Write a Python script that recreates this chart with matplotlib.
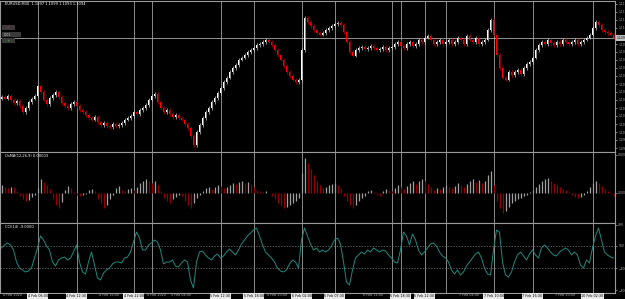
import numpy as np
import matplotlib
matplotlib.use("Agg")
import matplotlib.pyplot as plt
from matplotlib.patches import Rectangle

# close prices, in pips above 1.0980 (one per M30 bar)
close_pips = [
    55, 53, 56, 52, 49, 51, 46, 40, 44, 50,
    53, 56, 66, 60, 52, 48, 54, 57, 60, 55,
    49, 46, 44, 48, 50, 46, 42, 40, 37, 34,
    32, 35, 30, 27, 29, 26, 25, 28, 26, 27,
    29, 32, 34, 36, 40, 38, 42, 44, 47, 52,
    56, 58, 50, 44, 40, 42, 38, 35, 37, 34,
    32, 28, 24, 16, 7, 20, 27, 34, 40, 44,
    50, 54, 59, 64, 70, 74, 80, 84, 87, 92,
    94, 97, 100, 102, 104, 107, 108, 110, 112, 110,
    107, 102, 97, 92, 86, 80, 76, 72, 70, 72,
    102, 134, 130, 126, 122, 119, 117, 119, 122, 124,
    126, 128, 129, 127, 120, 110, 100, 96, 102, 104,
    105, 103, 104, 106, 104, 102, 103, 105, 102, 104,
    105, 108, 110, 106, 104, 108, 110, 106, 108, 112,
    110, 114, 116, 112, 108, 110, 112, 108, 110, 112,
    108, 110, 114, 112, 108, 116, 112, 110, 114, 108,
    110, 112, 122, 132, 117, 97, 84, 74, 72, 80,
    77, 80, 82, 78, 84, 88, 90, 94, 102, 107,
    110, 108, 112, 109, 107, 110, 108, 112, 110, 108,
    110, 112, 108, 110, 112, 114, 117, 124, 130, 127,
    122, 120, 119, 117, 114,
]

# OsMA histogram, in units of 0.00001
osma_pts = [
    8, 6, 5, 6, 6, 2, -3, -6, -8, -7,
    -4, -2, 5, 14, 11, 8, 4, -6, -12, -15,
    -9, 3, 7, 5, 1, -2, -3, -2, -1, 3,
    4, 2, -6, -10, -15, -12, -6, -2, 5, 7,
    3, 2, 4, 5, 3, 6, 10, 12, 14, 12,
    10, 12, 8, 2, -5, -8, -10, -6, -4, -2,
    -3, -8, -12, -15, -10, -5, -2, 2, 5, 6,
    4, 6, 8, 7, 5, 6, 8, 10, 9, 11,
    12, 10, 11, 9, 6, 3, 2, 1, 2, 0,
    -3, -6, -10, -13, -15, -14, -12, -10, -8, -5,
    20, 35, 30, 24, 18, 12, 8, 5, 6, 8,
    9, 10, 8, 5, -3, -8, -12, -15, -12, -8,
    -5, -3, 2, 3, 1, -2, -3, 2, 4, 3,
    2, 5, 8, 6, 4, 7, 10, 12, 9, 12,
    14, 12, 9, 6, 3, 5, 4, 6, 8, 6,
    5, 7, 10, 8, 6, 9, 12, 14, 11, 13,
    10, 12, 18, 22, 8, -8, -15, -20, -18, -14,
    -10, -8, -6, -5, -3, -2, 1, 3, 6, 9,
    12, 14, 15, 12, 10, 8, 6, 4, 3, 1,
    -2, -4, -5, -4, -2, 2, 6, 10, 12, 10,
    7, 4, 2, -1, -3,
]

# CCI(14)
cci = [
    81, 108, 126, 108, 63, -45, -99, -117, -135, -126,
    -99, -9, 81, 189, 153, 99, 63, -45, -81, -27,
    -9, 0, -27, -9, 45, 108, -45, -135, -153, -45,
    45, -72, -189, -207, -144, -117, -99, -63, -45, -45,
    -54, -9, 0, 45, 135, 225, 171, 63, 63, 108,
    126, 153, 135, 63, -63, -45, -45, -27, -81, -90,
    -54, -27, -45, -207, -279, -45, 45, 54, 18, -9,
    -27, 9, 27, -9, 9, 45, 72, 45, 18, 63,
    117, 153, 189, 216, 243, 261, 189, 108, 45, 18,
    -9, -45, -99, -126, -135, -117, -63, -27, -45, -99,
    153, 261, 189, 117, 63, 81, 45, 63, 45, 63,
    99, 153, 171, 117, -45, -225, -252, -117, -9, 18,
    45, 27, 63, 45, 81, 63, 45, 63, 54, 18,
    -9, -45, -54, 63, 225, 189, 108, 207, 153, 63,
    18, 45, 81, 117, 126, 99, 45, 9, -9, -45,
    -117, -153, -117, -162, -135, -81, -45, -9, 27, 45,
    -9, -99, -153, -162, 63, 243, 225, -45, -162, -180,
    -135, -45, 18, 45, 9, -27, 27, 63, 18, -9,
    81, 108, 81, 45, 18, 9, 45, 63, 81, 63,
    18, 45, 18, -72, -99, -27, -54, 81, 189, 261,
    153, 45, 18, 0, -9,
]

# bars carrying vertical line objects, with their labels
vline_bars = [12, 25, 44, 50, 73, 84, 100, 111, 130, 133, 141, 148, 164, 177, 197]
vline_labels = ["4 Feb 06:00", "4 Feb 12:30", "4 Feb 22:00", "5 Feb 01:00",
                "5 Feb 12:30", "5 Feb 18:00", "6 Feb 02:00", "6 Feb 07:30",
                "6 Feb 17:00", "6 Feb 18:30", "6 Feb 22:30", "7 Feb 02:00",
                "7 Feb 10:00", "7 Feb 16:30", "10 Feb 02:30"]
boxed = [0, 1, 2, 4, 5, 6, 7, 9, 10, 12, 13, 14]

time_ticks = [0, 8, 16, 24, 32, 40, 48, 56, 64, 72, 80, 88, 96, 104, 112,
              120, 128, 136, 144, 152, 160, 168, 176, 184, 192, 200]
time_labels = ["4 Feb 2020", "4 Feb 04:00", "4 Feb 08:00", "4 Feb 12:00",
               "4 Feb 16:00", "4 Feb 20:00", "5 Feb 2020", "5 Feb 04:00",
               "5 Feb 08:00", "5 Feb 12:00", "5 Feb 16:00", "5 Feb 20:00",
               "6 Feb 2020", "6 Feb 04:00", "6 Feb 08:00", "6 Feb 12:00",
               "6 Feb 16:00", "6 Feb 20:00", "7 Feb 2020", "7 Feb 04:00",
               "7 Feb 08:00", "7 Feb 12:00", "7 Feb 16:00", "7 Feb 20:00",
               "10 Feb 2020", "10 Feb 04:00"]

base = 1.0980
close = base + np.array(close_pips) / 10000
opn = np.concatenate([[close[0] - 0.0002], close[:-1]])
high = np.maximum(opn, close) + 0.00015
low = np.minimum(opn, close) - 0.00015
osma = np.array(osma_pts) * 1e-5
cci = np.array(cci)
n = len(close)
x = np.arange(n)

W, H = 625, 299
fig = plt.figure(figsize=(W / 100, H / 100), dpi=100, facecolor="black")

def px_axes(top, bottom):
    return fig.add_axes([0, (H - bottom) / H, 615 / W, (bottom - top) / H], facecolor="black")

ax1 = px_axes(1, 152)
ax2 = px_axes(152, 223)
ax3 = px_axes(223, 293)

grey = "#9a9a9a"
for ax in (ax1, ax2, ax3):
    ax.set_xlim(-0.5, n - 0.5)
    for s in ax.spines.values():
        s.set_color(grey)
        s.set_linewidth(0.8)
    ax.yaxis.tick_right()
    ax.tick_params(axis="y", colors="#b0b0b0", labelsize=2.2, length=1.5, width=0.5, pad=0.8)
    ax.set_xticks([])
    for b in vline_bars:
        ax.axvline(b, color="#a0a0a0", lw=0.6, zorder=1)

# candles
up = close >= opn
ax1.vlines(x[up], low[up], high[up], color="#c8c8c8", lw=0.5, zorder=2)
ax1.vlines(x[~up], low[~up], high[~up], color="#c00000", lw=0.5, zorder=2)
body = np.maximum(np.abs(close - opn), 0.00004)
ax1.bar(x[up], body[up], bottom=opn[up], width=0.65, color="white", zorder=3)
ax1.bar(x[~up], body[~up], bottom=close[~up], width=0.65, color="#ff0000", zorder=3)
ax1.set_ylim(base, base + 0.0151)
price_ticks = base + np.arange(4, 151, 8) / 10000
price_ticks = price_ticks[np.abs(price_ticks - close[-1]) > 0.0004]
ax1.set_yticks(price_ticks)
ax1.yaxis.set_major_formatter(matplotlib.ticker.FormatStrFormatter("%.4f"))
ax1.axhline(close[-1], color="#a8a8a8", lw=0.6, zorder=1)
ax1.text(1.002, (close[-1] - base) / 0.0151, f"{close[-1]:.4f}", transform=ax1.transAxes,
         fontsize=2.2, color="black", va="center", ha="left",
         bbox=dict(boxstyle="square,pad=0.2", fc="#c0c0c0", ec="none"))
ax1.text(0.008, 0.995, f"EURUSD,M30  {opn[-1]:.4f} {high[-1]:.4f} {low[-1]:.4f} {close[-1]:.4f}",
         transform=ax1.transAxes, fontsize=2.6, color="white", va="top")

# OsMA histogram
rising = np.concatenate([[True], osma[1:] > osma[:-1]])
ax2.vlines(x[rising], 0, osma[rising], color="#a0a0a0", lw=0.9)
ax2.vlines(x[~rising], 0, osma[~rising], color="#960000", lw=0.9)
ax2.set_ylim(-0.00030, 0.00041)
ax2.set_yticks([0.0, 0.00038])
ax2.yaxis.set_major_formatter(matplotlib.ticker.FormatStrFormatter("%.5f"))
ax2.text(0.008, 0.97, "OsMA(12,26,9) 0.00003", transform=ax2.transAxes,
         fontsize=2.6, color="white", va="top")

# CCI
ax3.plot(x, cci, color="#1f8a80", lw=0.7)
for lvl in (100, -100):
    ax3.axhline(lvl, color="#7a7a7a", lw=0.5, ls=(0, (2, 2)))
ax3.set_ylim(-324, 306)
ax3.set_yticks([-300, -100, 100, 290])
ax3.text(0.008, 0.97, f"CCI(14) {cci[-1]:.4f}", transform=ax3.transAxes,
         fontsize=2.6, color="white", va="top")

# time scale
trans = matplotlib.transforms.blended_transform_factory(ax3.transData, fig.transFigure)
boxed_bars = [vline_bars[i] for i in boxed]
for t, lab in zip(time_ticks, time_labels):
    if any(b - 10.5 < t < b + 3.5 for b in boxed_bars):
        continue
    ax3.text(t + 0.4, 1.5 / H, lab, transform=trans, fontsize=2.4, color="#b0b0b0",
             ha="left", va="bottom", clip_on=False)
for i in boxed:
    ax3.text(vline_bars[i], 1.2 / H, vline_labels[i], transform=trans, fontsize=2.4,
             color="black", ha="center", va="bottom", clip_on=False, zorder=5,
             bbox=dict(boxstyle="square,pad=0.25", fc="#e8e8e8", ec="none"))

# one-click trading buttons
def px_rect(x0, y0, w, h, fc):
    fig.add_artist(Rectangle((x0 / W, 1 - (y0 + h) / H), w / W, h / H,
                             transform=fig.transFigure, fc=fc, ec="none"))

px_rect(2, 25, 13, 5, "#3a3a3a")
px_rect(2, 32, 19, 5, "#3a3a3a")
px_rect(2, 38, 13, 5, "#3a3a3a")
fig.text(8.5 / W, 1 - 27.5 / H, "×", fontsize=3, color="#d03030", ha="center", va="center")
fig.text(8 / W, 1 - 34.5 / H, "0.01", fontsize=2.4, color="#c0c0c0", ha="center", va="center")
fig.text(8.5 / W, 1 - 40.5 / H, "+", fontsize=3, color="#30c030", ha="center", va="center")

fig.savefig("out.png", dpi=100, facecolor="black")
